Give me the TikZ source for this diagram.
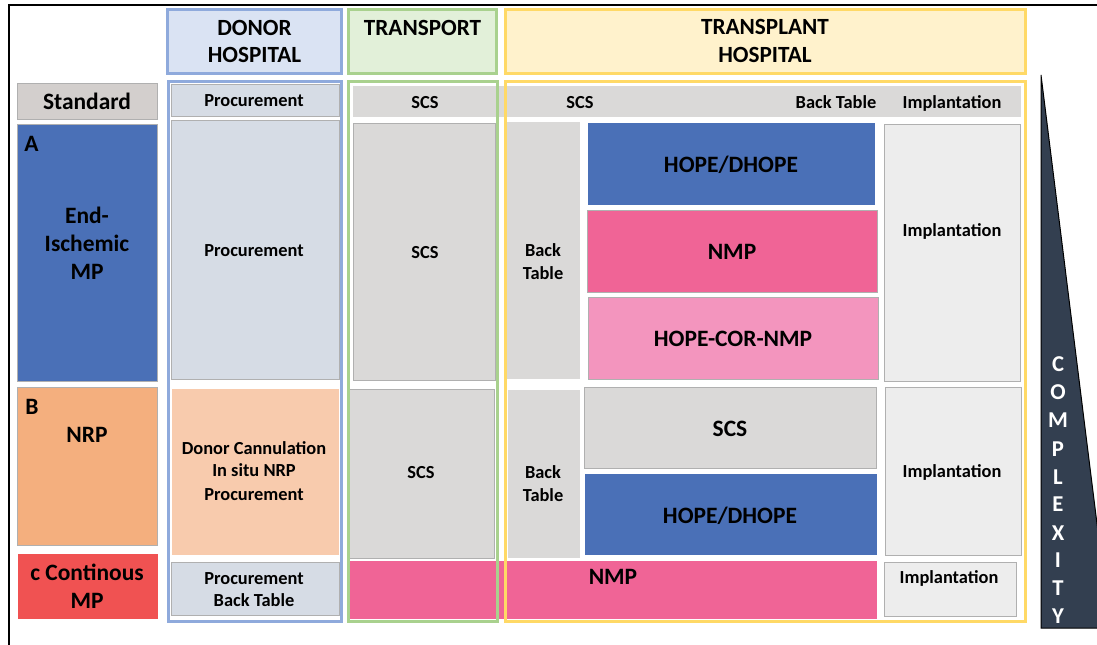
\documentclass[tikz,border=0pt]{standalone}
\usepackage{fontspec}
\setmainfont{Carlito}
\definecolor{stdgray}{HTML}{D3CFCD}
\definecolor{blueA}{HTML}{4A70B7}
\definecolor{orangeB}{HTML}{F4AF7E}
\definecolor{redC}{HTML}{F05252}
\definecolor{donorfill}{HTML}{DAE3F3}
\definecolor{donorline}{HTML}{8FAADC}
\definecolor{donorbox}{HTML}{D6DCE5}
\definecolor{peach}{HTML}{F8CBAD}
\definecolor{transfill}{HTML}{E2F0D9}
\definecolor{transline}{HTML}{A9D18E}
\definecolor{plantfill}{HTML}{FFF2CC}
\definecolor{plantline}{HTML}{FFD966}
\definecolor{scsgray}{HTML}{DAD9D8}
\definecolor{implgray}{HTML}{EDEDED}
\definecolor{nmppink}{HTML}{F06496}
\definecolor{corpink}{HTML}{F395BE}
\definecolor{slate}{HTML}{333F50}
\definecolor{edgegray}{HTML}{B0B0B0}
\begin{document}
\begin{tikzpicture}[x=0.75pt,y=-0.75pt,
  box/.style={draw=edgegray, line width=0.75pt},
  frame/.style={line width=2.25pt},
  small/.style={font=\bfseries\fontsize{13.8}{16}\selectfont, inner sep=0pt, anchor=base},
  big/.style={font=\bfseries\fontsize{17.6}{20}\selectfont, inner sep=0pt, anchor=base},
  head/.style={font=\bfseries\fontsize{17.4}{20}\selectfont, inner sep=0pt, anchor=base},
  cx/.style={font=\bfseries\fontsize{17}{19}\selectfont, text=white, inner sep=0pt, anchor=base}]
\useasboundingbox (0,0) rectangle (1097,645);
\clip (0,0) rectangle (1097,645);
\fill[white] (0,0) rectangle (1097,645);
% outer frame
\draw[line width=1.5pt] (9,650) -- (9,5) -- (1100,5);

% ---------- left column ----------
\draw[box, fill=stdgray] (17,84) rectangle (157,120);
\node[big] (std) at (87,110) {Standard};
\draw[box, fill=blueA] (17,125) rectangle (157,382);
\node[big, anchor=base west] (la) at (24,152) {A};
\node[big] (la1) at (87,224) {End-};
\node[big] (la2) at (87,252) {Ischemic};
\node[big] (la3) at (87,280) {MP};
\draw[box, fill=orangeB] (17,388) rectangle (157,545);
\node[big, anchor=base west] (lb) at (25,415) {B};
\node[big] (lb1) at (87,443) {NRP};
\draw[box, draw=white, fill=redC] (17,553) rectangle (158,619);
\node[big] (lc1) at (87,580) {c Continous};
\node[big] (lc2) at (87,608) {MP};

% ---------- headers ----------
\draw[frame, draw=donorline, fill=donorfill] (167.5,9.5) rectangle (341.5,74);
\node[head] (dh1) at (254.5,36) {DONOR};
\node[head] (dh2) at (254.5,63) {HOSPITAL};
\draw[frame, draw=transline, fill=transfill] (348.5,9.5) rectangle (496.5,74);
\node[head] (th1) at (422.5,36) {TRANSPORT};
\draw[frame, draw=plantline, fill=plantfill] (505.5,9.5) rectangle (1025.5,74);
\node[head] (ph1) at (765,35) {TRANSPLANT};
\node[head] (ph2) at (765,63) {HOSPITAL};

% ---------- donor column ----------
\draw[box, fill=donorbox] (171,85) rectangle (339,117);
\node[small] (d0) at (254,107) {Procurement};
\draw[box, fill=donorbox] (171,121) rectangle (339,380);
\node[small] (dA) at (254,257) {Procurement};
\draw[box, draw=white, fill=peach] (171,389) rectangle (339,555);
\node[small] (dB1) at (254,455) {Donor Cannulation};
\node[small] (dB2) at (254,477) {In situ NRP};
\node[small] (dB3) at (254,500) {Procurement};
\draw[box, fill=donorbox] (171,562) rectangle (339,615);
\node[small] (dC1) at (254,584) {Procurement};
\node[small] (dC2) at (254,606) {Back Table};

% ---------- standard band ----------
\draw[box, draw=white, fill=scsgray] (352,86) rectangle (1021,118);
\node[small] (s1) at (425,109) {SCS};
\node[small] (s2) at (580,109) {SCS};
\node[small] (s3) at (836,109) {Back Table};
\node[small] (s4) at (952,109) {Implantation};

% ---------- row A ----------
\draw[box, fill=scsgray] (353,124) rectangle (495,381);
\node[small] (tA) at (425,259) {SCS};
\draw[box, draw=white, fill=scsgray] (506,122) rectangle (580,380);
\node[small] (bA1) at (543,257) {Back};
\node[small] (bA2) at (543,280) {Table};
\draw[box, draw=white, fill=blueA] (587,123) rectangle (875,206);
\node[big] (hA) at (731,173) {HOPE/DHOPE};
\draw[box, fill=nmppink] (587,211) rectangle (877,293);
\node[big] (nA) at (732,260) {NMP};
\draw[box, fill=corpink] (588,298) rectangle (878,380);
\node[big] (cA) at (733,347) {HOPE-COR-NMP};
\draw[box, fill=implgray] (884,125) rectangle (1020,382);
\node[small] (iA) at (952,237) {Implantation};

% ---------- row B ----------
\draw[box, fill=scsgray] (349,390) rectangle (494,558);
\node[small] (tB) at (421,479) {SCS};
\draw[box, draw=white, fill=scsgray] (507,390) rectangle (580,558);
\node[small] (bB1) at (543,479) {Back};
\node[small] (bB2) at (543,501) {Table};
\draw[box, fill=scsgray] (584,388) rectangle (876,469);
\node[big] (sB) at (730,437) {SCS};
\draw[box, draw=white, fill=blueA] (584,474) rectangle (877,555);
\node[big] (hB) at (730,523) {HOPE/DHOPE};
\draw[box, fill=implgray] (885,388) rectangle (1021,555);
\node[small] (iB) at (952,478) {Implantation};

% ---------- row C ----------
\draw[box, draw=white, fill=nmppink] (349,560) rectangle (877,619);
\node[big] (nC) at (613,584) {NMP};
\draw[box, fill=implgray] (884,562) rectangle (1016,616);
\node[small] (iC) at (949,583) {Implantation};

% ---------- column frames ----------
\draw[frame, draw=donorline] (168.5,81.5) rectangle (341,621);
\draw[frame, draw=transline] (348.5,81.5) rectangle (497,621);
\draw[frame, draw=plantline] (505.5,81.5) rectangle (1025.5,621);

% ---------- complexity ----------
\draw[fill=slate, draw=black, line width=0.75pt] (1041,75) -- (1110,628) -- (1041,628) -- cycle;
\node[cx] (k1) at (1058,372) {C};
\node[cx] (k2) at (1058,400) {O};
\node[cx] (k3) at (1058,428) {M};
\node[cx] (k4) at (1058,456) {P};
\node[cx] (k5) at (1058,484) {L};
\node[cx] (k6) at (1058,512) {E};
\node[cx] (k7) at (1058,540) {X};
\node[cx] (k8) at (1058,567) {I};
\node[cx] (k9) at (1058,595) {T};
\node[cx] (k10) at (1058,623) {Y};
\end{tikzpicture}
\end{document}
